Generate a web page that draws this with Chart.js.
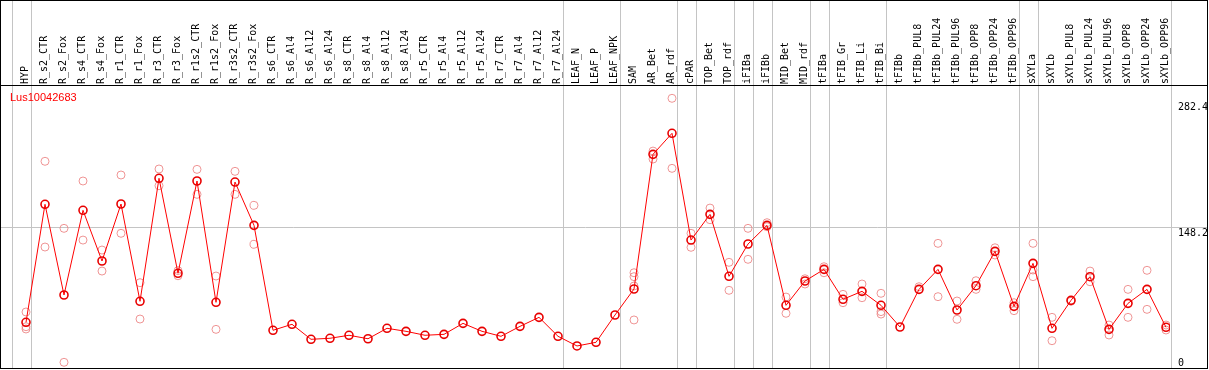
<!DOCTYPE html>
<html>
<head>
<meta charset="utf-8">
<script src="https://cdn.jsdelivr.net/npm/chart.js@4.4.1/dist/chart.umd.min.js"></script>
<style>
  html, body { margin: 0; padding: 0; background: #fff; }
  canvas { display: block; }
</style>
</head>
<body>
<canvas id="expr" width="1209" height="370"></canvas>
<script>
// samples (x axis, drawn as rotated labels on top)
const categories = [
    'HYP', 'R_s2_CTR', 'R_s2_Fox', 'R_s4_CTR', 'R_s4_Fox', 'R_r1_CTR', 'R_r1_Fox',
    'R_r3_CTR', 'R_r3_Fox', 'R_r1s2_CTR', 'R_r1s2_Fox', 'R_r3s2_CTR', 'R_r3s2_Fox',
    'R_s6_CTR', 'R_s6_Al4', 'R_s6_Al12', 'R_s6_Al24', 'R_s8_CTR', 'R_s8_Al4', 'R_s8_Al12',
    'R_s8_Al24', 'R_r5_CTR', 'R_r5_Al4', 'R_r5_Al12', 'R_r5_Al24', 'R_r7_CTR', 'R_r7_Al4',
    'R_r7_Al12', 'R_r7_Al24', 'LEAF_N', 'LEAF_P', 'LEAF_NPK', 'SAM', 'AR_Bet', 'AR_rdf',
    'cPAR', 'TOP_Bet', 'TOP_rdf', 'iFIBa', 'iFIBb', 'MID_Bet', 'MID_rdf', 'tFIBa',
    'tFIB_Gr', 'tFIB_Li', 'tFIB_Bi', 'tFIBb', 'tFIBb_PUL8', 'tFIBb_PUL24', 'tFIBb_PUL96',
    'tFIBb_OPP8', 'tFIBb_OPP24', 'tFIBb_OPP96', 'sXYLa', 'sXYLb', 'sXYLb_PUL8',
    'sXYLb_PUL24', 'sXYLb_PUL96', 'sXYLb_OPP8', 'sXYLb_OPP24', 'sXYLb_OPP96'
];

// mean expression per sample
const means = [
    47.6, 173.3, 76.7, 166.9, 112.9, 173.6, 70.0, 201.0, 99.8, 198.1, 68.9, 197.0, 150.9,
    39.1, 45.5, 29.5, 30.6, 33.8, 30.1, 41.2, 38.0, 33.8, 34.8, 46.5, 38.0, 32.7, 43.3, 52.9, 32.7,
    22.4, 26.3, 55.4, 83.1, 226.5, 248.9, 135.2, 162.6, 96.6, 131.0, 150.9, 65.7, 91.6, 104.0,
    72.1, 80.6, 65.7, 42.6, 82.7, 104.0, 60.7, 86.6, 123.2, 64.6, 110.4, 41.2, 71.0, 96.2,
    40.1, 67.8, 82.7, 42.3
];

// single replicates (null = none visible)
const repA = [
    58.6, 219.1, 147.7, 198.1, 124.6, 204.5, 89.8, 210.9, 102.6, 210.5, 96.9, 208.4, 172.2,
    null, null, null, null, null, null, null, null, null, null, null, null, null, null, null, null,
    null, null, null, 100.4, 230.0, 286.2, 142.4, 169.3, 111.5, 147.7, 153.7, 74.5, 94.0, 106.8,
    77.4, 88.4, 78.5, null, 85.5, 131.7, 70.3, 91.9, 127.0, 68.5, 131.7, 52.9, 70.0, 102.2,
    44.7, 82.7, 103.0, 44.7
];
const repB = [
    42.9, 127.8, 5.0, 135.2, 102.2, 142.4, 51.1, 193.1, 97.2, 183.9, 40.1, 183.9, 130.7,
    null, null, null, null, null, null, null, null, null, null, null, null, null, null, null, null,
    null, null, null, 96.2, 221.5, 211.6, 127.5, 156.9, 81.7, 114.7, 149.4, 57.2, 88.4, 100.4,
    68.5, 73.8, 59.0, null, null, 74.9, 50.8, 82.7, 119.3, 60.0, 103.3, 28.0, null, 90.8,
    34.1, 52.9, 61.4, 39.4
];
const repC = [
    40.5, null, null, null, null, null, null, null, null, null, null, null, null,
    null, null, null, null, null, null, null, null, null, null, null, null, null, null, null, null,
    null, null, null, 86.3, null, null, null, null, null, null, null, null, null, null,
    null, null, 56.4, null, null, null, null, null, null, null, 96.2, null, null, null,
    null, null, null, null
];
const repD = [
    null, null, null, null, null, null, null, null, null, null, null, null, null,
    null, null, null, null, null, null, null, null, null, null, null, null, null, null, null, null,
    null, null, null, 50.1, null, null, null, null, null, null, null, null, null, null,
    null, null, null, null, null, null, null, null, null, null, null, null, null, null,
    null, null, null, null
];

const yTicks = [0, 148.2, 282.4];
// tissue group separators: drawn just right of these sample indices
const groupEnds = [-1, 0, 28, 31, 34, 35, 37, 38, 39, 41, 42, 45, 52, 53, 60];

const geneName = 'Lus10042683';
const monoFont = "'DejaVu Sans Mono', monospace";

const meanPoints = means.map((v, i) => ({ x: i, y: v }));
const repPoints = [];
[repA, repB, repC, repD].forEach(rep => {
    rep.forEach((v, i) => {
        if (v !== null) repPoints.push({ x: i, y: v });
    });
});

const decorations = {
    id: 'decorations',
    beforeDatasetsDraw(chart) {
        const { ctx, chartArea, scales } = chart;
        ctx.save();
        ctx.strokeStyle = '#c4c4c4';
        ctx.lineWidth = 1;
        groupEnds.forEach(i => {
            const x = Math.round(scales.x.getPixelForValue(i + 0.237)) + 0.5;
            ctx.beginPath();
            ctx.moveTo(x, 0);
            ctx.lineTo(x, chartArea.bottom);
            ctx.stroke();
        });
        ctx.restore();
    },
    afterDraw(chart) {
        const { ctx, chartArea, scales } = chart;
        ctx.save();
        // y labels, printed just below their value
        ctx.font = '10px ' + monoFont;
        ctx.fillStyle = '#000';
        ctx.textAlign = 'left';
        ctx.textBaseline = 'top';
        yTicks.forEach(v => {
            const y = Math.min(scales.y.getPixelForValue(v) + 1, chartArea.bottom - 10);
            ctx.fillText(String(v), chartArea.right + 8, y);
        });
        // gene id
        ctx.font = "11px 'Liberation Sans', Arial, sans-serif";
        ctx.fillStyle = '#ff0000';
        ctx.textBaseline = 'middle';
        ctx.fillText(geneName, 10, chartArea.top + 12);
        // frame and header separator
        ctx.strokeStyle = '#000';
        ctx.lineWidth = 1;
        ctx.beginPath();
        ctx.moveTo(0, 0.5); ctx.lineTo(1208, 0.5);
        ctx.moveTo(0.5, 0); ctx.lineTo(0.5, 369);
        ctx.moveTo(1207.5, 0); ctx.lineTo(1207.5, 369);
        ctx.moveTo(0, 368.5); ctx.lineTo(1208, 368.5);
        ctx.moveTo(0, chartArea.top - 0.5); ctx.lineTo(1208, chartArea.top - 0.5);
        ctx.stroke();
        ctx.restore();
    }
};

new Chart(document.getElementById('expr'), {
    type: 'line',
    data: {
        datasets: [
            {
                label: 'mean',
                data: meanPoints,
                borderColor: '#ff0000',
                borderWidth: 1,
                pointRadius: 4,
                pointBorderWidth: 1.6,
                pointBorderColor: '#e80000',
                pointBackgroundColor: 'rgba(0,0,0,0)',
                tension: 0
            },
            {
                label: 'replicates',
                type: 'scatter',
                data: repPoints,
                showLine: false,
                pointRadius: 4,
                pointBorderWidth: 1,
                pointBorderColor: 'rgba(236,130,130,0.85)',
                pointBackgroundColor: 'rgba(0,0,0,0)'
            }
        ]
    },
    options: {
        responsive: false,
        devicePixelRatio: 1,
        animation: false,
        layout: { autoPadding: false, padding: { left: 1, right: 2, top: 0, bottom: 2 } },
        plugins: {
            legend: { display: false },
            tooltip: { enabled: false }
        },
        scales: {
            x: {
                type: 'linear',
                position: 'top',
                min: -1.316,
                max: 60.21,
                afterBuildTicks: scale => {
                    scale.ticks = categories.map((c, i) => ({ value: i }));
                },
                afterFit: scale => {
                    scale.height = 86;
                    scale.paddingLeft = 0;
                    scale.paddingRight = 0;
                },
                grid: { display: false, drawTicks: false },
                border: { display: false },
                ticks: {
                    autoSkip: false,
                    minRotation: 90,
                    maxRotation: 90,
                    padding: 2,
                    labelOffset: 11.5,
                    color: '#000',
                    font: { family: monoFont, size: 10 },
                    callback: v => categories[v]
                }
            },
            y: {
                position: 'right',
                min: -1.06,
                max: 299.3,
                afterBuildTicks: scale => {
                    scale.ticks = yTicks.map(v => ({ value: v }));
                },
                afterFit: scale => {
                    scale.width = 37;
                    scale.paddingTop = 0;
                    scale.paddingBottom = 0;
                },
                border: { display: false },
                grid: {
                    color: c => (c.tick && c.tick.value === 148.2) ? '#c4c4c4' : 'rgba(0,0,0,0)',
                    tickLength: 37,
                    lineWidth: 1
                },
                ticks: { display: false }
            }
        }
    },
    plugins: [decorations]
});
</script>
</body>
</html>
